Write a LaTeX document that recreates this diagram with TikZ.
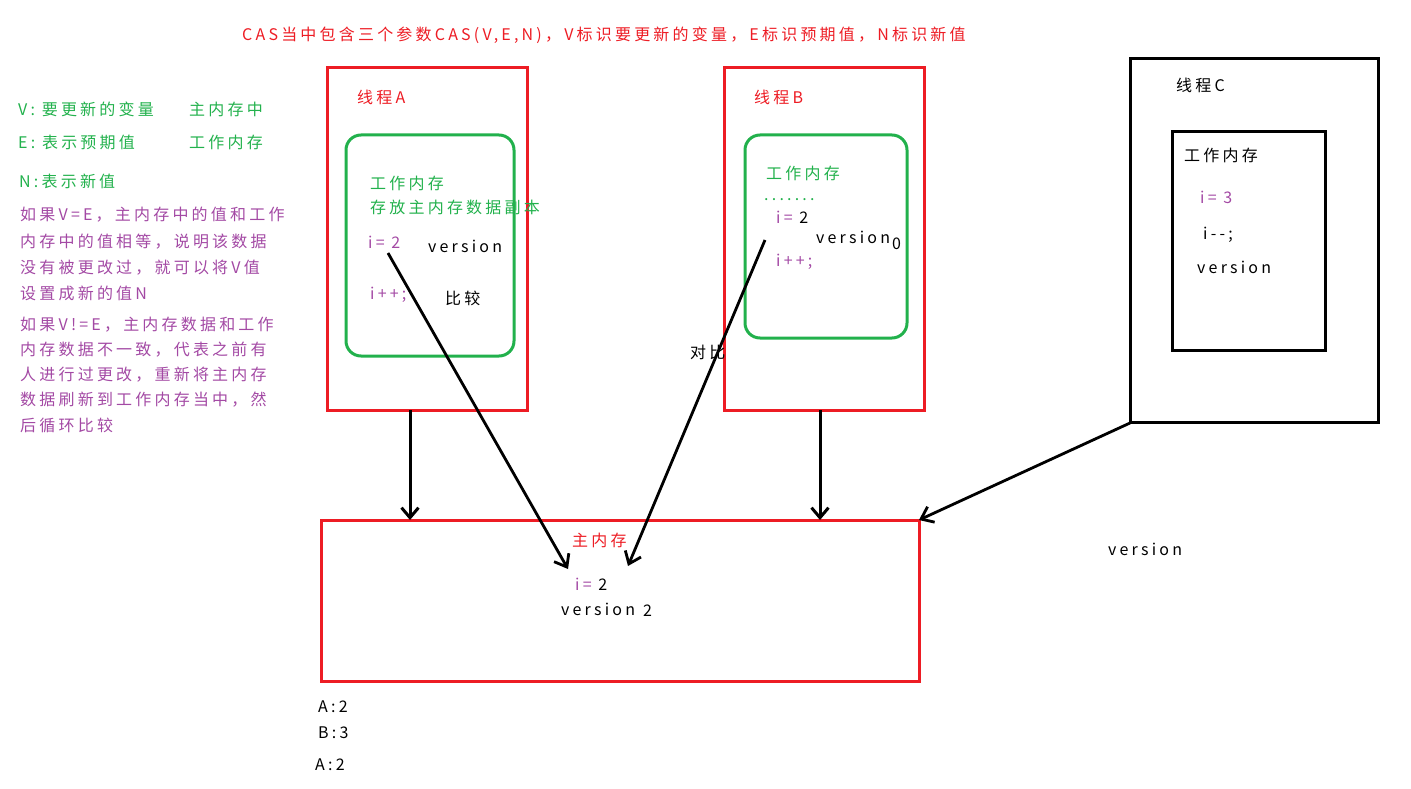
\documentclass[tikz,border=0pt]{standalone}
\usepackage{fontspec}
\setmainfont{Noto Sans CJK SC}
\newfontfamily\cjk[LetterSpace=20]{Noto Sans CJK SC}
\usetikzlibrary{arrows.meta}
\definecolor{pred}{RGB}{237,28,36}
\definecolor{pgreen}{RGB}{34,177,76}
\definecolor{ppurple}{RGB}{163,73,164}
\tikzset{
  txt/.style={anchor=west,inner sep=0pt,font=\cjk\fontsize{16}{18}\selectfont},
  gtxt/.style={txt,text=pgreen},
  ptxt/.style={txt,text=ppurple},
  rtxt/.style={txt,text=pred},
  btxt/.style={txt,text=black},
  redbox/.style={draw=pred,line width=3pt},
  greenbox/.style={draw=pgreen,line width=3pt,rounded corners=15pt},
  blackbox/.style={draw=black,line width=3pt},
  conn/.style={draw=black,line width=3pt,-{Straight Barb[length=10pt,width=17pt,line width=3pt]}},
  conn2/.style={draw=black,line width=2.8pt,-{Straight Barb[length=11pt,width=17pt,line width=2.8pt]}}
}
\begin{document}
\begin{tikzpicture}[x=1pt,y=-1pt]
\useasboundingbox (0,0) rectangle (1411,789);
% title
\node[rtxt] (title) at (242,35) {CAS当中包含三个参数CAS(V,E,N)，V标识要更新的变量，E标识预期值，N标识新值};
% left notes
\node[gtxt] (v) at (18,109) {V: 要更新的变量};
\node[gtxt] (v2) at (189,109) {主内存中};
\node[gtxt] (e) at (18,142) {E: 表示预期值};
\node[gtxt] (e2) at (189,142) {工作内存};
\node[gtxt] (n) at (19,181) {N:表示新值};
\node[ptxt] (p1) at (20,215) {如果V=E，主内存中的值和工作};
\node[ptxt] (p2) at (20,242) {内存中的值相等，说明该数据};
\node[ptxt] (p3) at (20,268) {没有被更改过，就可以将V值};
\node[ptxt] (p4) at (20,293) {设置成新的值N};
\node[ptxt] (q1) at (20,325) {如果V!=E，主内存数据和工作};
\node[ptxt] (q2) at (20,350) {内存数据不一致，代表之前有};
\node[ptxt] (q3) at (20,375) {人进行过更改，重新将主内存};
\node[ptxt] (q4) at (20,400) {数据刷新到工作内存当中，然};
\node[ptxt] (q5) at (20,425) {后循环比较};
% thread A
\draw[redbox] (327,68) rectangle (527,410);
\coordinate (Abot) at (410,410);
\node[rtxt] (la) at (357,97) {线程A};
\draw[greenbox] (346,135) rectangle (514,356);
\node[gtxt] (wa1) at (370,183) {工作内存};
\node[gtxt] (wa2) at (370,207) {存放主内存数据副本};
\node[ptxt] (ia) at (368,242) {i= 2};
\node[btxt] (va) at (428,246) {version};
\node[ptxt] (ipa) at (370,295) {i++;};
\node[btxt] (cmp) at (445,298) {比较};
\coordinate (Astart) at (388,253);
% thread B
\draw[redbox] (724,68) rectangle (924,410);
\coordinate (Bbot) at (820,410);
\node[rtxt] (lb) at (754,97) {线程B};
\draw[greenbox] (745,135) rectangle (907,338);
\node[gtxt] (wb1) at (766,173) {工作内存};
\node[gtxt] (dots) at (764,200) {.......};
\node[ptxt] (ib) at (776,217) {i= \textcolor{black}{2}};
\node[btxt] (vb) at (816,237) {version};
\node[btxt] (vb0) at (892,244) {0};
\node[ptxt] (ipb) at (776,262) {i++;};
\node[btxt] (db) at (690,352) {对比};
\coordinate (Bstart) at (765,240);
% thread C
\draw[blackbox] (1130,59) rectangle (1378,422);
\coordinate (Ccorner) at (1130,423);
\node[btxt] (lc) at (1176,85) {线程C};
\draw[blackbox] (1172,132) rectangle (1325,350);
\node[btxt] (wc) at (1184,155) {工作内存};
\node[ptxt] (ic) at (1200,197) {i= 3};
\node[btxt] (imc) at (1203,235) {i--;};
\node[btxt] (vc) at (1197,267) {version};
% main memory
\draw[redbox] (321,520) rectangle (919,681);
\coordinate (Mtopa) at (410,520);
\coordinate (Mtopb) at (820,520);
\coordinate (Mcorner) at (919,520);
\coordinate (Mia) at (568,569);
\coordinate (Mib) at (628,566);
\node[rtxt] (mm) at (572,540) {主内存};
\node[ptxt] (im) at (575,584) {i= \textcolor{black}{2}};
\node[btxt] (vm) at (561,609) {version};
\node[btxt] (vm2) at (643,611) {2};
\node[btxt] (vout) at (1108,549) {version};
\node[btxt] (a1) at (318,707) {A:2};
\node[btxt] (b1) at (318,733) {B:3};
\node[btxt] (a2) at (315,765) {A:2};
% connectors
\draw[conn] (Abot) -- (Mtopa);
\draw[conn] (Bbot) -- (Mtopb);
\draw[conn2] (Astart) -- (Mia);
\draw[conn2] (Bstart) -- (Mib);
\draw[conn2] (Ccorner) -- (Mcorner);
\end{tikzpicture}
\end{document}
